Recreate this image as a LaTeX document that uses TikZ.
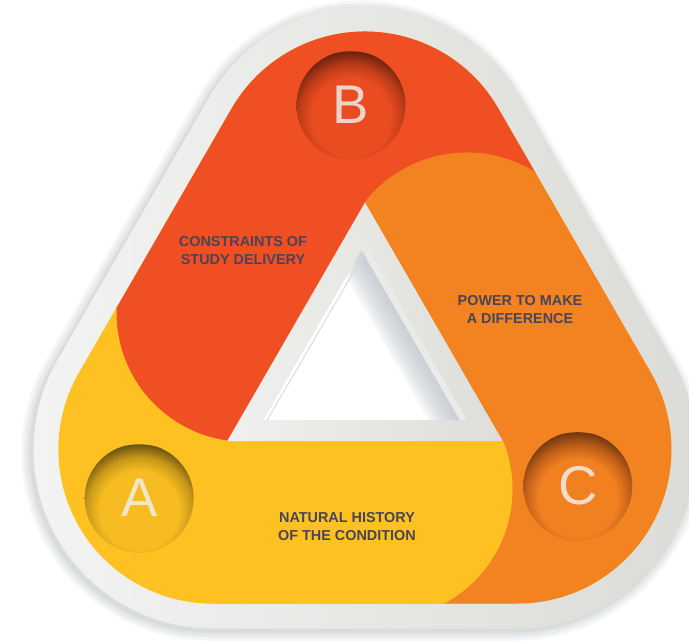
\documentclass[tikz,border=0pt]{standalone}
\usepackage{fontspec}
\setmainfont{Liberation Sans}

\definecolor{bandred}{HTML}{F04E23}
\definecolor{bandorange}{HTML}{F38321}
\definecolor{bandyellow}{HTML}{FDC221}
\definecolor{rimlight}{HTML}{F4F4F3}
\definecolor{rimdark}{HTML}{DBDBD7}
\definecolor{innerlight}{HTML}{F0F0EE}
\definecolor{innerdark}{HTML}{DDDDD9}
\definecolor{dropshade}{HTML}{8A949A}
\definecolor{holeshade}{HTML}{B9C0C6}
\definecolor{holewall}{HTML}{EAEBE9}
\definecolor{holeline}{HTML}{D6DADC}
\definecolor{labelink}{HTML}{4B4357}
\definecolor{letterA}{HTML}{F2E6C8}
\definecolor{letterB}{HTML}{EFD2C9}
\definecolor{letterC}{HTML}{F4DCC9}

\definecolor{pitBbase}{HTML}{E94C21}
\definecolor{pitBmid}{HTML}{BB3B18}
\definecolor{pitBdark}{HTML}{6A220E}
\definecolor{pitAbase}{HTML}{F6BC21}
\definecolor{pitAmid}{HTML}{C99819}
\definecolor{pitAdark}{HTML}{6D5312}
\definecolor{pitCbase}{HTML}{F08020}
\definecolor{pitCmid}{HTML}{C05F18}
\definecolor{pitCdark}{HTML}{70380E}

% recessed discs: dark rim at the top, base colour towards the bottom
% (the path's bounding box is mapped onto the central 50bp square of the shading)
\pgfdeclareradialshading{pitB}{\pgfpointorigin}{color(0bp)=(pitBbase); color(15bp)=(pitBbase); color(20bp)=(pitBmid); color(25bp)=(pitBdark); color(50bp)=(pitBdark)}
\pgfdeclareradialshading{pitA}{\pgfpointorigin}{color(0bp)=(pitAbase); color(15bp)=(pitAbase); color(20bp)=(pitAmid); color(25bp)=(pitAdark); color(50bp)=(pitAdark)}
\pgfdeclareradialshading{pitC}{\pgfpointorigin}{color(0bp)=(pitCbase); color(15bp)=(pitCbase); color(20bp)=(pitCmid); color(25bp)=(pitCdark); color(50bp)=(pitCdark)}

% rounded triangle centred on the origin:
% #1 path options, #2 distance from centre to the straight sides, #3 corner radius
\newcommand\roundtri[3]{%
  \pgfmathsetmacro\rtOff{2*((#2)-(#3))}%
  \pgfmathsetmacro\rtRad{#3}%
  \pgfmathsetmacro\rtAx{\rtOff*cos(210)}%
  \pgfmathsetmacro\rtAy{\rtOff*sin(210)-\rtRad}%
  \pgfmathsetmacro\rtBx{\rtOff*cos(330)}%
  \pgfmathsetmacro\rtCx{\rtRad*cos(30)}%
  \pgfmathsetmacro\rtCy{\rtOff+\rtRad*sin(30)}%
  \pgfmathsetmacro\rtDx{\rtOff*cos(210)+\rtRad*cos(150)}%
  \pgfmathsetmacro\rtDy{\rtOff*sin(210)+\rtRad*sin(150)}%
  \path[#1] (\rtAx,\rtAy) -- (\rtBx,\rtAy) arc[start angle=-90,end angle=30,radius=\rtRad]
    -- (\rtCx,\rtCy) arc[start angle=30,end angle=150,radius=\rtRad]
    -- (\rtDx,\rtDy) arc[start angle=150,end angle=270,radius=\rtRad] -- cycle;}

% one of the three coloured pieces of the ring (the left one); the other two
% are the same piece turned by 120 degrees about the centre
\newcommand\bandpiece{(-137.70,-79.50) arc[start angle=262,end angle=150,radius=129.13]
  -- (-448,238) -- (0,520) -- (430,269) -- (213.59,144.07)
  arc[start angle=30,end angle=142,radius=129.13] -- cycle}

\tikzset{
  bandtext/.style={font=\bfseries\fontsize{14.4}{17.7}\selectfont, text=labelink,
    align=center, inner sep=0pt},
  pitletter/.style={font=\fontsize{54.5}{60}\selectfont, inner sep=0pt},
  piece/.style={fill=#1, draw=#1, line width=0.8pt}
}

\begin{document}
\begin{tikzpicture}[x=1pt, y=1pt]
  \useasboundingbox (-365,-279.5) rectangle (324,361.5);
  \clip (-365,-279.5) rectangle (324,361.5);
  \fill[white] (-365,-279.5) rectangle (324,361.5);

  % soft drop shadow under the frame
  \begin{scope}[shift={(-3,-3)}]
    \foreach \k in {9,6,3,1} {\roundtri{fill=dropshade, fill opacity=0.09}{267+\k}{179+\k}}
  \end{scope}

  % light grey outer frame
  \roundtri{shade, left color=rimlight, right color=rimdark}{267}{179}

  % the three coloured pieces of the ring
  \begin{scope}
    \roundtri{clip}{242}{154}
    \fill[bandyellow] (-400,-400) rectangle (400,400);
    \fill[piece=bandred] \bandpiece;
    \fill[piece=bandorange, rotate=-120] \bandpiece;
    \fill[piece=bandyellow, rotate=120] \bandpiece;
  \end{scope}

  % grey frame round the central opening
  \path[shade, left color=innerlight, right color=innerdark]
    (0,159) -- (-137.70,-79.50) -- (137.70,-79.50) -- cycle;

  % central opening with its inner shadow
  \fill[white] (0,117) -- (-101.32,-58.5) -- (101.32,-58.5) -- cycle;
  \begin{scope}
    \clip (0,117) -- (-101.32,-58.5) -- (101.32,-58.5) -- cycle;
    \begin{scope}[rotate=30]
      \fill[holewall] (52.5,-200) rectangle (70,200);
      \foreach \s in {3,6,...,27} {\fill[holeshade, fill opacity=0.12] (52.5-\s,-200) rectangle (52.5,200);}
    \end{scope}
    \draw[holeline, line width=0.9pt] (2.6,113.5) -- (-98.7,-60);
  \end{scope}

  % recessed discs with their letters
  \begin{scope}
    \clip (-14,256.2) circle[radius=54.5];
    \shade[shading=pitB] (-14,244.2) circle[radius=66];
  \end{scope}
  \node[pitletter, text=letterB] (B) at (-14,256.5) {B};

  \begin{scope}
    \clip (-225.8,-136.8) circle[radius=54.5];
    \shade[shading=pitA] (-225.8,-148.8) circle[radius=66];
  \end{scope}
  \node[pitletter, text=letterA] (A) at (-225.8,-136.5) {A};

  \begin{scope}
    \clip (212.8,-124.7) circle[radius=54.5];
    \shade[shading=pitC] (212.8,-136.7) circle[radius=66];
  \end{scope}
  \node[pitletter, text=letterC] (C) at (212.8,-124.7) {C};

  % captions on the three pieces
  \node[bandtext] (constraints) at (-122,110.8) {CONSTRAINTS OF\\STUDY DELIVERY};
  \node[bandtext] (power) at (155,52.2) {POWER TO MAKE\\A DIFFERENCE};
  \node[bandtext] (natural) at (-18,-164.9) {NATURAL HISTORY\\OF THE CONDITION};
\end{tikzpicture}
\end{document}
